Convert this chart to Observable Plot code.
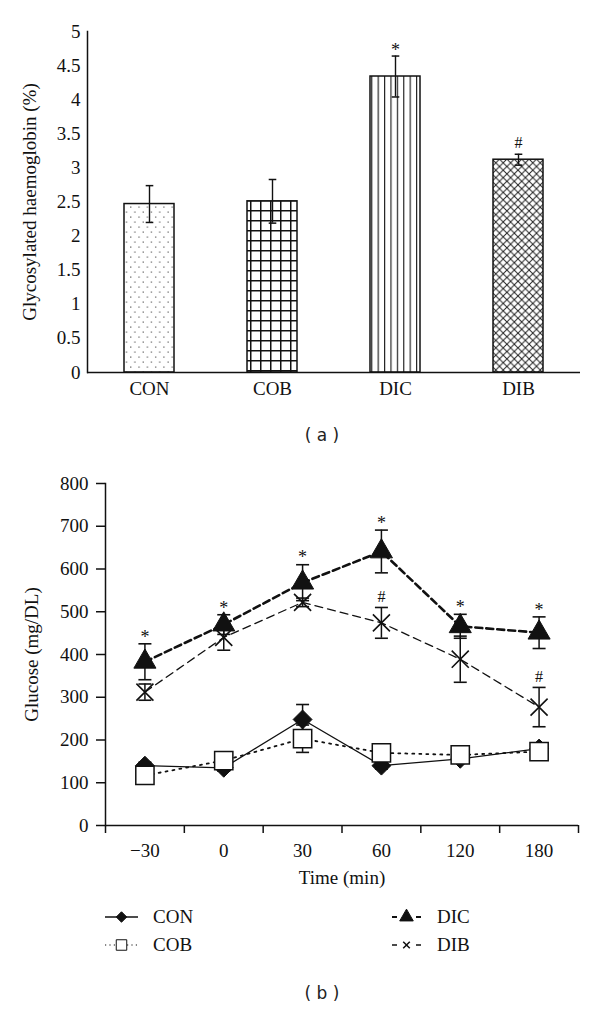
<!DOCTYPE html>
<html><head><meta charset="utf-8">
<script src="https://cdn.jsdelivr.net/npm/d3@7"></script>
<script src="https://cdn.jsdelivr.net/npm/@observablehq/plot@0.6"></script>
<style>
body{margin:0;background:#fff;width:600px;}
.cap{font-family:"DejaVu Sans";font-size:17px;color:#222;text-align:center;padding-left:44px;box-sizing:border-box;width:600px;}
.legend{position:relative;height:60px;width:600px;font-family:"Liberation Serif";font-size:19px;color:#111;}
.item{position:absolute;display:flex;align-items:center;height:28px;}
.item svg{display:block;}
</style></head><body>
<svg width="0" height="0" style="position:absolute">
<defs>
<pattern id="p-dots" patternUnits="userSpaceOnUse" width="8.3" height="10">
 <rect x="1.5" y="1.5" width="1.2" height="1.2" fill="#555"/>
 <rect x="5.65" y="6.5" width="1.2" height="1.2" fill="#555"/>
</pattern>
<pattern id="p-grid" patternUnits="userSpaceOnUse" width="10" height="10">
 <path d="M0,0.75H10M0.75,0V10" stroke="#111" stroke-width="1.5"/>
</pattern>
<pattern id="p-vert" patternUnits="userSpaceOnUse" width="6.4" height="10">
 <path d="M0.6,0V10" stroke="#111" stroke-width="1.1"/>
</pattern>
<pattern id="p-diag" patternUnits="userSpaceOnUse" width="7.4" height="7.4">
 <path d="M0,0L7.4,7.4M7.4,0L0,7.4" stroke="#222" stroke-width="1"/>
</pattern>
</defs></svg>
<div id="a"></div>
<div class="cap" style="height:50px;line-height:50px">( a )</div>
<div id="b"></div>
<div id="legend" class="legend"></div>
<div class="cap" style="height:66px;line-height:66px">( b )</div>
<script>
// ---------- Panel (a) data ----------
const groups = ["CON", "COB", "DIC", "DIB"];
const hbMean = [2.47, 2.51, 4.34, 3.12];
const hbErr  = [0.27, 0.32, 0.30, 0.08];
const hbSig  = ["", "", "*", "#"];
const hbTicks = [0, 0.5, 1, 1.5, 2, 2.5, 3, 3.5, 4, 4.5, 5];

// ---------- Panel (b) data ----------
const times  = ["\u221230", "0", "30", "60", "120", "180"];
const conGlu = [140, 135, 248, 140, 156, 180];
const conErr = [8, 8, 35, 8, 8, 12];
const cobGlu = [117, 152, 203, 170, 165, 173];
const cobErr = [8, 8, 32, 8, 8, 8];
const dicGlu = [383, 470, 568, 641, 466, 451];
const dicErr = [42, 23, 42, 50, 28, 37];
const dibGlu = [312, 440, 522, 474, 389, 277];
const dibErr = [19, 30, 10, 36, 54, 46];
const dicSig = ["*", "*", "*", "*", "*", "*"];
const dibSig = ["", "", "", "#", "", "#"];
const gluTicks = [0, 100, 200, 300, 400, 500, 600, 700, 800];
const seriesNames = ["CON", "COB", "DIC", "DIB"];

const font = {fontFamily: "Liberation Serif", fontSize: "19px", color: "#111", background: "white", overflow: "visible"};
const capSym = w => ({draw(ctx) { ctx.moveTo(-w, 0); ctx.lineTo(w, 0); }});

// ---------- Panel (a) ----------
const patternOf = {CON: "url(#p-dots)", COB: "url(#p-grid)", DIC: "url(#p-vert)", DIB: "url(#p-diag)"};
const barRows = groups.map((g, i) => ({g, v: hbMean[i], e: hbErr[i], s: hbSig[i]}));

const plotA = Plot.plot({
  width: 600, height: 410,
  marginTop: 31, marginBottom: 38, marginLeft: 87, marginRight: 20,
  style: font,
  x: {domain: groups, paddingInner: 0.594, paddingOuter: 0.297},
  y: {domain: [0, 5]},
  marks: [
    Plot.axisY(hbTicks, {tickSize: 0, tickPadding: 7, tickFormat: d => String(d),
      label: "Glycosylated haemoglobin (%)", labelAnchor: "center", labelOffset: 65, labelArrow: false}),
    Plot.axisX({tickSize: 0, tickPadding: 9, label: null}),
    ...groups.map(g => Plot.barY(barRows.filter(d => d.g === g),
      {x: "g", y: "v", fill: patternOf[g], stroke: "#111", strokeWidth: 1.5})),
    Plot.ruleX(barRows, {x: "g", y1: d => d.v - d.e, y2: d => d.v + d.e, stroke: "#111", strokeWidth: 1.4}),
    Plot.dot(barRows, {x: "g", y: d => d.v + d.e, symbol: capSym(3.8), fill: "none", stroke: "#111", strokeWidth: 1.5}),
    Plot.dot(barRows, {x: "g", y: d => d.v - d.e, symbol: capSym(3.8), fill: "none", stroke: "#111", strokeWidth: 1.5}),
    Plot.text(barRows.filter(d => d.s === "*"), {x: "g", y: d => d.v + d.e, text: "s", dy: -6, fontSize: 18}),
    Plot.text(barRows.filter(d => d.s === "#"), {x: "g", y: d => d.v + d.e, text: "s", dy: -11, fontSize: 16}),
    Plot.frame({anchor: "left", stroke: "#111", strokeWidth: 1.5}),
    Plot.ruleY([0], {stroke: "#111", strokeWidth: 1.5})
  ]
});
document.getElementById("a").appendChild(plotA);

// ---------- Panel (b) ----------
const styles = {
  CON: {dash: null, width: 1.3, symbol: "diamond2", r: 8.5, fill: "#111", sw: 1},
  COB: {dash: "2,5", width: 1.8, symbol: "square", r: 10.3, fill: "white", sw: 1.5},
  DIC: {dash: "7,4", width: 2.6, symbol: "triangle", r: 8.2, fill: "#111", sw: 1},
  DIB: {dash: "8,5", width: 1.3, symbol: "times", r: 7.8, fill: "none", sw: 1.6}
};
const means = {CON: conGlu, COB: cobGlu, DIC: dicGlu, DIB: dibGlu};
const errs = {CON: conErr, COB: cobErr, DIC: dicErr, DIB: dibErr};
const sigs = {DIC: dicSig, DIB: dibSig};
const rows = seriesNames.flatMap(name => means[name].map((v, i) => ({name, i, v, e: errs[name][i], s: sigs[name] ? sigs[name][i] : ""})));
const idx = times.map((_, i) => i);
const bounds = d3.range(times.length + 1).map(i => i - 0.5);
const drawOrder = ["CON", "COB", "DIB", "DIC"];

const plotB = Plot.plot({
  width: 600, height: 440,
  marginTop: 23, marginBottom: 75, marginLeft: 105, marginRight: 22,
  style: font,
  x: {type: "linear", domain: [-0.5, times.length - 0.5]},
  y: {domain: [0, 800]},
  marks: [
    Plot.axisY(gluTicks, {tickSize: 9, tickPadding: 8, strokeWidth: 1.5,
      label: "Glucose (mg/DL)", labelAnchor: "center", labelOffset: 81, labelArrow: false}),
    Plot.axisX(bounds, {tickSize: 8, tickFormat: () => "", strokeWidth: 1.5, label: null}),
    Plot.axisX(idx, {tickSize: 0, tickPadding: 18, tickFormat: i => times[i],
      label: "Time (min)", labelAnchor: "center", labelOffset: 58, labelArrow: false}),
    Plot.frame({anchor: "left", stroke: "#111", strokeWidth: 1.5}),
    Plot.ruleY([0], {stroke: "#111", strokeWidth: 1.5}),
    ...drawOrder.map(n => Plot.line(rows.filter(d => d.name === n),
      {x: "i", y: "v", stroke: "#111", strokeWidth: styles[n].width, strokeDasharray: styles[n].dash})),
    Plot.ruleX(rows, {x: "i", y1: d => d.v - d.e, y2: d => d.v + d.e, stroke: "#111", strokeWidth: 1.5}),
    Plot.dot(rows, {x: "i", y: d => d.v + d.e, symbol: capSym(6.5), fill: "none", stroke: "#111", strokeWidth: 1.6}),
    Plot.dot(rows, {x: "i", y: d => d.v - d.e, symbol: capSym(6.5), fill: "none", stroke: "#111", strokeWidth: 1.6}),
    ...drawOrder.map(n => Plot.dot(rows.filter(d => d.name === n),
      {x: "i", y: "v", symbol: styles[n].symbol, r: styles[n].r, fill: styles[n].fill, stroke: "#111", strokeWidth: styles[n].sw})),
    Plot.text(rows.filter(d => d.s === "*"), {x: "i", y: d => d.v + d.e, text: "s", dy: -7, fontSize: 18}),
    Plot.text(rows.filter(d => d.s === "#"), {x: "i", y: d => d.v + d.e, text: "s", dy: -11, fontSize: 16})
  ]
});
document.getElementById("b").appendChild(plotB);

// ---------- Legend ----------
const legendSym = {
  CON: {type: d3.symbolDiamond2, size: 70, fill: "#111", sw: 1},
  COB: {type: d3.symbolSquare, size: 110, fill: "white", sw: 1},
  DIC: {type: d3.symbolTriangle, size: 80, fill: "#111", sw: 1},
  DIB: {type: d3.symbolTimes, size: 30, fill: "none", sw: 1.5}
};
const legendLine = {CON: {dash: null, w: 1.3, width: 33}, COB: {dash: "1.2,3.2", w: 1.2, width: 33},
                    DIC: {dash: "5,19", w: 2, width: 29}, DIB: {dash: "5,19", w: 1.5, width: 29}};
const leg = d3.select("#legend");
seriesNames.forEach((n, k) => {
  const col = k < 2 ? 0 : 1, row = k % 2;
  const wdt = legendLine[n].width;
  const item = leg.append("div").attr("class", "item")
    .style("left", (col ? 392 : 105) + "px").style("top", (3 + row * 28) + "px");
  const svg = item.append("svg").attr("width", wdt).attr("height", 20);
  svg.append("line").attr("x1", 0).attr("x2", wdt).attr("y1", 10).attr("y2", 10)
    .attr("stroke", "#111").attr("stroke-width", legendLine[n].w)
    .attr("stroke-dasharray", legendLine[n].dash);
  svg.append("path").attr("transform", `translate(${wdt / 2},10)`)
    .attr("d", d3.symbol(legendSym[n].type, legendSym[n].size)())
    .attr("fill", legendSym[n].fill).attr("stroke", "#111").attr("stroke-width", legendSym[n].sw);
  item.append("span").style("margin-left", (col ? 16 : 15) + "px").text(n);
});
</script>
</body></html>
